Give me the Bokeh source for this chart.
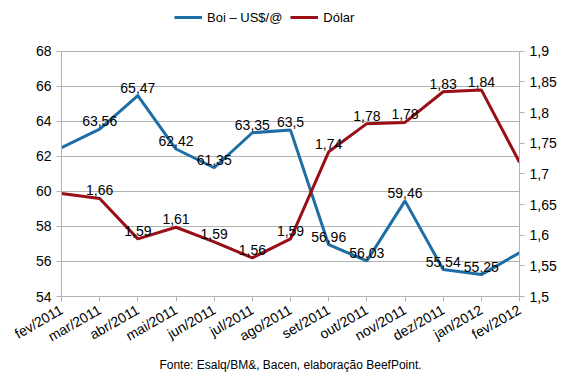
from bokeh.plotting import figure
from bokeh.models import (LinearAxis, Range1d, FixedTicker, Legend, LegendItem,
                          LabelSet, ColumnDataSource)
from bokeh.core.properties import value
from bokeh.embed import file_html
from bokeh.resources import INLINE

months = ["fev/2011", "mar/2011", "abr/2011", "mai/2011", "jun/2011", "jul/2011",
          "ago/2011", "set/2011", "out/2011", "nov/2011", "dez/2011", "jan/2012", "fev/2012"]
boi = [62.5, 63.56, 65.47, 62.42, 61.35, 63.35, 63.5, 56.96, 56.03, 59.46, 55.54, 55.25, 56.5]
dolar = [1.668, 1.660, 1.594, 1.613, 1.589, 1.563, 1.594, 1.736, 1.782, 1.784, 1.834, 1.837, 1.719]
labeled = list(range(1, 12))

left_ticks = [54, 56, 58, 60, 62, 64, 66, 68]
right_ticks = [1.5, 1.55, 1.6, 1.65, 1.7, 1.75, 1.8, 1.85, 1.9]
source_note = "Fonte: Esalq/BM&, Bacen, elaboração BeefPoint."

FONT = "Liberation Sans"
GRAY = "#b3b3b3"
BLUE = "#1c6ea4"
RED = "#9a0f17"

x = list(range(len(months)))

# headroom above the plotted scale, to hold the legend (in units of each scale)
L0, L1 = 54, 68
R0, R1 = 1.5, 1.9
head = 2.9
p = figure(width=566, height=375, x_range=Range1d(0, 12),
           y_range=Range1d(L0, L1 + head),
           output_backend="svg", toolbar_location=None,
           min_border_left=61, min_border_right=47, min_border_top=0, min_border_bottom=77)
p.extra_y_ranges = {"dolar": Range1d(R0, R1 + head * (R1 - R0) / (L1 - L0))}
p.outline_line_color = None
p.xgrid.visible = False
p.ygrid.grid_line_color = GRAY
p.ygrid.ticker = FixedTicker(ticks=left_ticks)

def style_axis(ax):
    ax.axis_line_color = GRAY
    ax.major_tick_line_color = GRAY
    ax.minor_tick_line_color = None
    ax.major_tick_out = 5
    ax.major_tick_in = 0
    ax.major_label_text_font = FONT
    ax.major_label_text_font_size = "14px"
    ax.major_label_text_color = "black"

# x axis
xa = p.xaxis[0]
xa.ticker = FixedTicker(ticks=x)
xa.major_label_overrides = {i: m for i, m in enumerate(months)}
xa.major_label_orientation = 0.52
style_axis(xa)
xa.major_label_standoff = 7
xa.axis_label = source_note
xa.axis_label_text_font = FONT
xa.axis_label_text_font_size = "12px"
xa.axis_label_text_font_style = "normal"
xa.axis_label_text_color = "black"
xa.axis_label_standoff = 4

# left axis
ya = p.yaxis[0]
ya.ticker = FixedTicker(ticks=left_ticks)
ya.bounds = (L0, L1)
style_axis(ya)

# right axis
ra = LinearAxis(y_range_name="dolar", ticker=FixedTicker(ticks=right_ticks), bounds=(R0, R1))
ra.major_label_overrides = {t: (f"{t:g}").replace(".", ",") for t in right_ticks}
style_axis(ra)
p.add_layout(ra, "right")

r_boi = p.line(x, boi, line_color=BLUE, line_width=3)
r_dol = p.line(x, dolar, line_color=RED, line_width=3, y_range_name="dolar")

src_b = ColumnDataSource(dict(x=[x[i] for i in labeled], y=[boi[i] for i in labeled],
                              t=[f"{boi[i]:g}".replace(".", ",") for i in labeled]))
src_d = ColumnDataSource(dict(x=[x[i] for i in labeled], y=[dolar[i] for i in labeled],
                              t=[f"{dolar[i]:.2f}".replace(".", ",") for i in labeled]))
for src, rng in ((src_b, "default"), (src_d, "dolar")):
    ls = LabelSet(x="x", y="y", text="t", source=src, y_range_name=rng,
                  text_align="center", text_baseline="bottom", y_offset=3,
                  text_font=value(FONT), text_font_size=value("14px"),
                  text_color=value("black"))
    p.add_layout(ls)

legend = Legend(items=[LegendItem(label="Boi – US$/@", renderers=[r_boi]),
                       LegendItem(label="Dólar", renderers=[r_dol])],
                orientation="horizontal", location=(113, 269),
                label_text_font=FONT, label_text_font_size="13px",
                label_text_color="black",
                glyph_width=28, spacing=8, border_line_color=None,
                background_fill_alpha=0, padding=2, margin=0)
p.add_layout(legend, "center")

open("out.html", "w").write(file_html(p, INLINE))
